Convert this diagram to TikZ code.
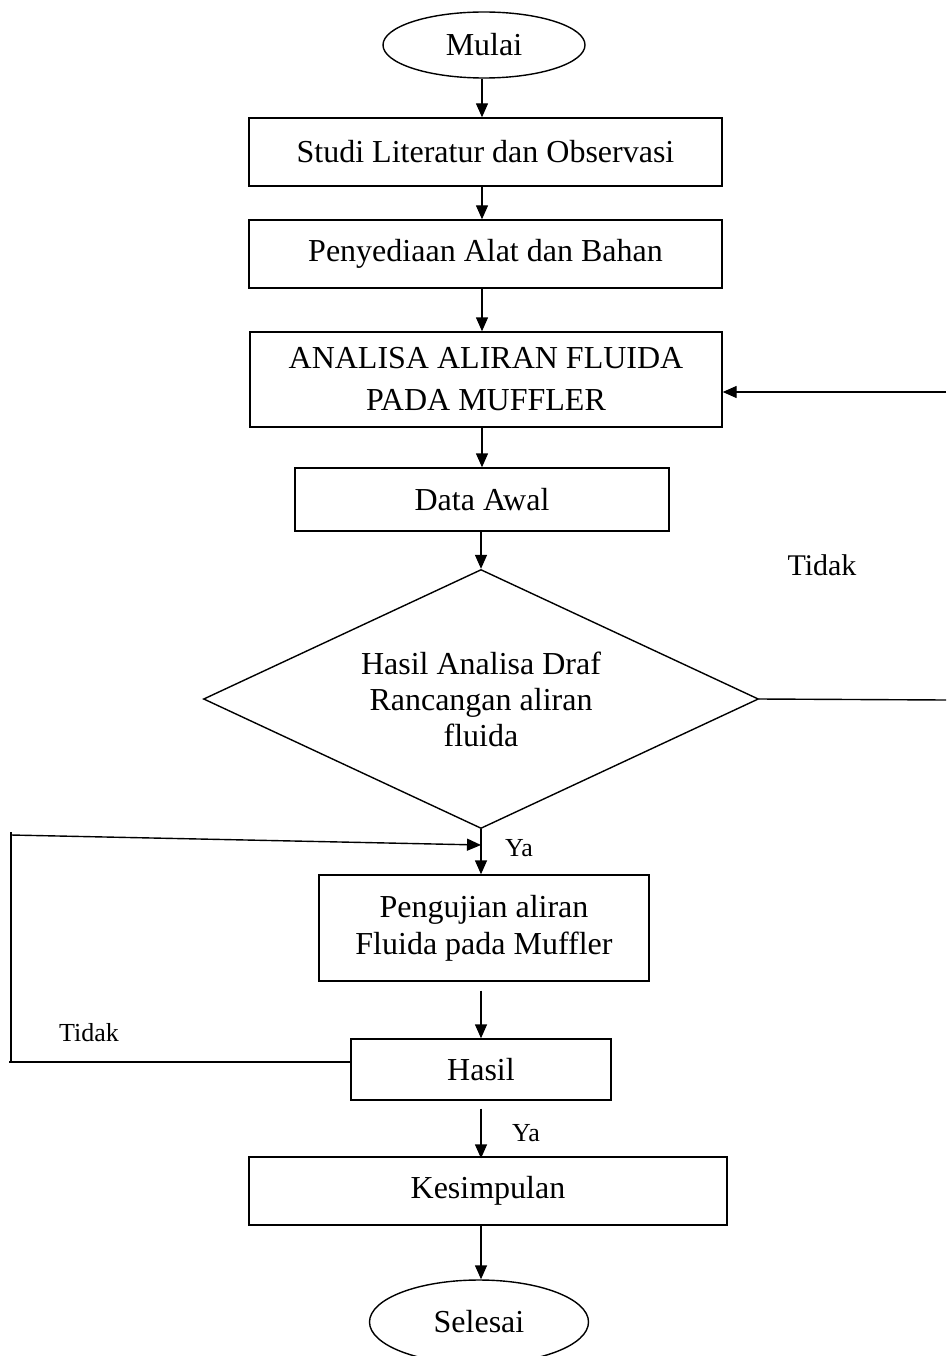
\documentclass[tikz,border=0pt]{standalone}
\usepackage{fontspec}
\setmainfont{Liberation Serif}
\usetikzlibrary{arrows.meta,shapes.geometric}
\begin{document}
\begin{tikzpicture}[x=1pt,y=-1pt,
  line width=1.4pt,
  box/.style={draw, rectangle, inner sep=0pt, align=center, font=\fontsize{32}{37}\selectfont},
  oval/.style={draw, ellipse, inner sep=0pt, font=\fontsize{32}{37}\selectfont},
  arr/.style={-{Triangle[length=14pt,width=12pt]}},
  lbl/.style={inner sep=0pt, font=\fontsize{26}{30}\selectfont}]
\useasboundingbox (0,0) rectangle (946,1356);
\coordinate (X) at (482,0);
% nodes
\node[oval, minimum width=202pt, minimum height=66pt] (mulai) at (484,45) {Mulai};
\node[box, minimum width=473pt, minimum height=68pt] (studi) at (485.5,152) {Studi Literatur dan Observasi};
\node[box, minimum width=473pt, minimum height=68pt] (peny) at (485.5,254) {Penyediaan Alat dan Bahan};
\node[box, minimum width=472pt, minimum height=95pt, font=\fontsize{32}{42}\selectfont] (analisa) at (486,379.5) {ANALISA ALIRAN FLUIDA\\PADA MUFFLER};
\node[box, minimum width=374pt, minimum height=63pt] (data) at (482,499.5) {Data Awal};
\node[draw, diamond, shape aspect=2.14, inner sep=0pt, align=center, minimum width=555pt, minimum height=259pt, font=\fontsize{32}{36}\selectfont] (dec) at (481,699) {Hasil Analisa Draf\\Rancangan aliran\\fluida};
\node[box, minimum width=330pt, minimum height=106pt] (peng) at (484,928) {Pengujian aliran\\Fluida pada Muffler};
\node[box, minimum width=260pt, minimum height=61pt] (hasil) at (481,1069.5) {Hasil};
\node[box, minimum width=478pt, minimum height=68pt] (kesim) at (488,1191) {Kesimpulan};
\node[oval, minimum width=219pt, minimum height=84pt] (selesai) at (479,1322) {Selesai};
% labels
\node[lbl, font=\fontsize{30}{34}\selectfont] (t1) at (822,565) {Tidak};
\node[lbl] (y1) at (519,848) {Ya};
\node[lbl] (t2) at (89,1033) {Tidak};
\node[lbl] (y2) at (526,1133) {Ya};
% free ends
\coordinate (R1) at (946,700);
\coordinate (R2) at (946,392);
\coordinate (L1) at (9,1062);
\coordinate (L2) at (11,832);
\coordinate (L3) at (11,835);
\coordinate (J) at (481,845);
% connectors
\draw[arr] (mulai.south -| X) -- (studi.north -| X);
\draw[arr] (studi.south -| X) -- (peny.north -| X);
\draw[arr] (peny.south -| X) -- (analisa.north -| X);
\draw[arr] (analisa.south -| X) -- (data.north -| X);
\draw[arr] (data.south -| dec.north) -- (dec.north);
\draw (dec.east) -- (R1);
\draw[arr] (R2) -- (analisa.east |- R2);
\draw[arr] (dec.south) -- (peng.north -| dec.south);
\draw (hasil.west |- L1) -- (L1);
\draw (L1 -| L2) -- (L2);
\draw[arr] (L3) -- (J);
\draw[arr] ([yshift=-9pt]peng.south -| dec.south) -- (hasil.north -| dec.south);
\draw[arr] ([yshift=-8pt]hasil.south -| dec.south) -- ([yshift=-2pt]kesim.north -| dec.south);
\draw[arr] (kesim.south -| dec.south) -- (selesai.north -| dec.south);
\end{tikzpicture}
\end{document}
